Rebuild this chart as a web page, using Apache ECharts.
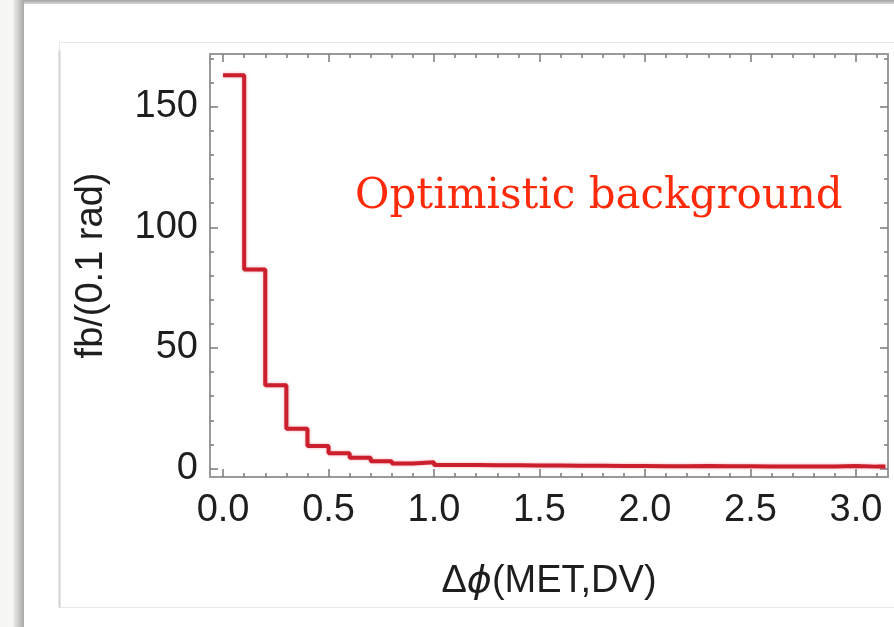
<!DOCTYPE html>
<html>
<head>
<meta charset="utf-8">
<title>Optimistic background</title>
<script src="https://cdn.jsdelivr.net/npm/echarts@6/dist/echarts.min.js"></script>
<style>
    html, body { margin: 0; padding: 0; background: #ffffff; }
    #container { width: 894px; height: 627px; }
</style>
</head>
<body>
<div id="container"></div>
<script>
// histogram bins: left edges (rad) and height of each bin in fb/(0.1 rad)
var binEdges = [0.0, 0.1, 0.2, 0.3, 0.4, 0.5, 0.6, 0.7, 0.8, 0.9,
                1.0, 1.1, 1.2, 1.3, 1.4, 1.5, 1.6, 1.7, 1.8, 1.9,
                2.0, 2.1, 2.2, 2.3, 2.4, 2.5, 2.6, 2.7, 2.8, 2.9,
                3.0, 3.1, 3.14];
var binCounts = [163, 82.5, 34.5, 16.5, 9.3, 6.3, 4.5, 3.0, 2.1, 2.6,
                 1.5, 1.5, 1.4, 1.4, 1.3, 1.3, 1.2, 1.2, 1.1, 1.1,
                 1.0, 1.0, 1.1, 1.0, 1.0, 0.9, 0.9, 0.9, 0.9, 1.1,
                 0.8, 0.8];
var xMajorTicks = [0, 0.5, 1.0, 1.5, 2.0, 2.5, 3.0];
var xMinorTicks = [0.1, 0.2, 0.3, 0.4, 0.6, 0.7, 0.8, 0.9, 1.1, 1.2, 1.3, 1.4,
                   1.6, 1.7, 1.8, 1.9, 2.1, 2.2, 2.3, 2.4, 2.6, 2.7, 2.8, 2.9, 3.1];
var yMajorTicks = [0, 50, 100, 150];
var yMinorTicks = [10, 20, 30, 40, 60, 70, 80, 90, 110, 120, 130, 140, 160, 170];
var titleText = 'Optimistic background';
var xName = 'Δ{i|ϕ}(MET,DV)';
var yName = 'fb/(0.1 rad)';

var xMin = -0.062, xMax = 3.152;
var yMin = -3.5, yMax = 171.8;

// step line points: each bin starts at its left edge, last point closes the final bin
var stepData = [];
for (var i = 0; i < binCounts.length; i++) {
    stepData.push([binEdges[i], binCounts[i]]);
}
stepData.push([binEdges[binEdges.length - 1], binCounts[binCounts.length - 1]]);

var frameColor = '#9a9a9a';
var labelFont = { fontFamily: 'Liberation Sans, Arial, sans-serif', fontSize: 38, color: '#1e1e1e' };

function frameAxis(pos, min, max, ticks, len, withLine) {
    return {
        type: 'value',
        position: pos,
        min: min,
        max: max,
        axisLine: { show: withLine, onZero: false, lineStyle: { color: frameColor, width: 2 } },
        axisTick: { show: true, inside: true, length: len, customValues: ticks,
                    lineStyle: { color: '#7a7a7a', width: 1.5 } },
        axisLabel: { show: false },
        splitLine: { show: false }
    };
}

var xBottom = frameAxis('bottom', xMin, xMax, xMajorTicks, 8, true);
xBottom.axisLabel = {
    show: true,
    customValues: xMajorTicks,
    margin: 15,
    fontFamily: labelFont.fontFamily,
    fontSize: labelFont.fontSize,
    color: labelFont.color,
    formatter: function (v) { return v.toFixed(1); }
};
xBottom.name = xName;
xBottom.nameLocation = 'middle';
xBottom.nameGap = 86;
xBottom.nameTextStyle = {
    fontFamily: labelFont.fontFamily, fontSize: 38, color: '#1e1e1e',
    rich: { i: { fontFamily: 'DejaVu Sans, sans-serif', fontStyle: 'italic', fontSize: 38, color: '#1e1e1e' } }
};

var yLeft = frameAxis('left', yMin, yMax, yMajorTicks, 8, true);
yLeft.axisLabel = {
    show: true,
    customValues: yMajorTicks,
    margin: 12,
    fontFamily: labelFont.fontFamily,
    fontSize: labelFont.fontSize,
    color: labelFont.color
};
yLeft.name = yName;
yLeft.nameLocation = 'middle';
yLeft.nameGap = 99;
yLeft.nameRotate = 90;
yLeft.nameTextStyle = { fontFamily: labelFont.fontFamily, fontSize: 38, color: '#1e1e1e' };

var dom = document.getElementById('container');
var myChart = echarts.init(dom, null, { renderer: 'canvas' });
var option = {
    backgroundColor: '#ffffff',
    animation: false,
    grid: {
        left: 210,
        right: 6,
        top: 54,
        bottom: 150,
        containLabel: false,
        outerBoundsMode: 'none'
    },
    graphic: [
        // screenshot edges: light strip, shadow, top bar, inner image border
        { type: 'rect', left: 0, top: 0, shape: { width: 13, height: 627 }, style: { fill: '#f7f7f3' }, silent: true },
        { type: 'rect', left: 13, top: 0, shape: { width: 11, height: 627 }, silent: true,
          style: { fill: new echarts.graphic.LinearGradient(0, 0, 1, 0, [
              { offset: 0, color: '#efefeb' }, { offset: 1, color: '#a9a9a9' }]) } },
        { type: 'rect', left: 24, top: 0, shape: { width: 870, height: 4 }, silent: true,
          style: { fill: new echarts.graphic.LinearGradient(0, 0, 0, 1, [
              { offset: 0, color: '#a4a4a4' }, { offset: 1, color: '#d6d6d6' }]) } },
        { type: 'rect', left: 57, top: 40, shape: { width: 850, height: 565 }, silent: true,
          style: { fill: 'none', stroke: '#e8e8e8', lineWidth: 1 } },
        { type: 'line', left: 57, top: 48, shape: { x1: 0, y1: 0, x2: 0, y2: 557 }, silent: true,
          style: { stroke: '#d2d2d2', lineWidth: 2 } },
        { type: 'text', left: 355, top: 176, silent: true,
          style: { text: titleText, fill: '#ff2a0a', fontFamily: 'DejaVu Serif, Liberation Serif, serif', fontSize: 42 } }
    ],
    xAxis: [
        xBottom,
        frameAxis('bottom', xMin, xMax, xMinorTicks, 4, false),
        frameAxis('top', xMin, xMax, xMajorTicks, 8, true),
        frameAxis('top', xMin, xMax, xMinorTicks, 4, false)
    ],
    yAxis: [
        yLeft,
        frameAxis('left', yMin, yMax, yMinorTicks, 4, false),
        frameAxis('right', yMin, yMax, yMajorTicks, 8, true),
        frameAxis('right', yMin, yMax, yMinorTicks, 4, false)
    ],
    series: [{
        type: 'line',
        step: 'end',
        xAxisIndex: 0,
        yAxisIndex: 0,
        data: stepData,
        showSymbol: false,
        symbol: 'none',
        clip: false,
        lineStyle: { color: '#cc1f2e', width: 4, shadowColor: 'rgba(230,60,70,0.45)', shadowBlur: 3 }
    }]
};
if (option && typeof option === 'object') {
    myChart.setOption(option, true);
}
</script>
</body>
</html>
